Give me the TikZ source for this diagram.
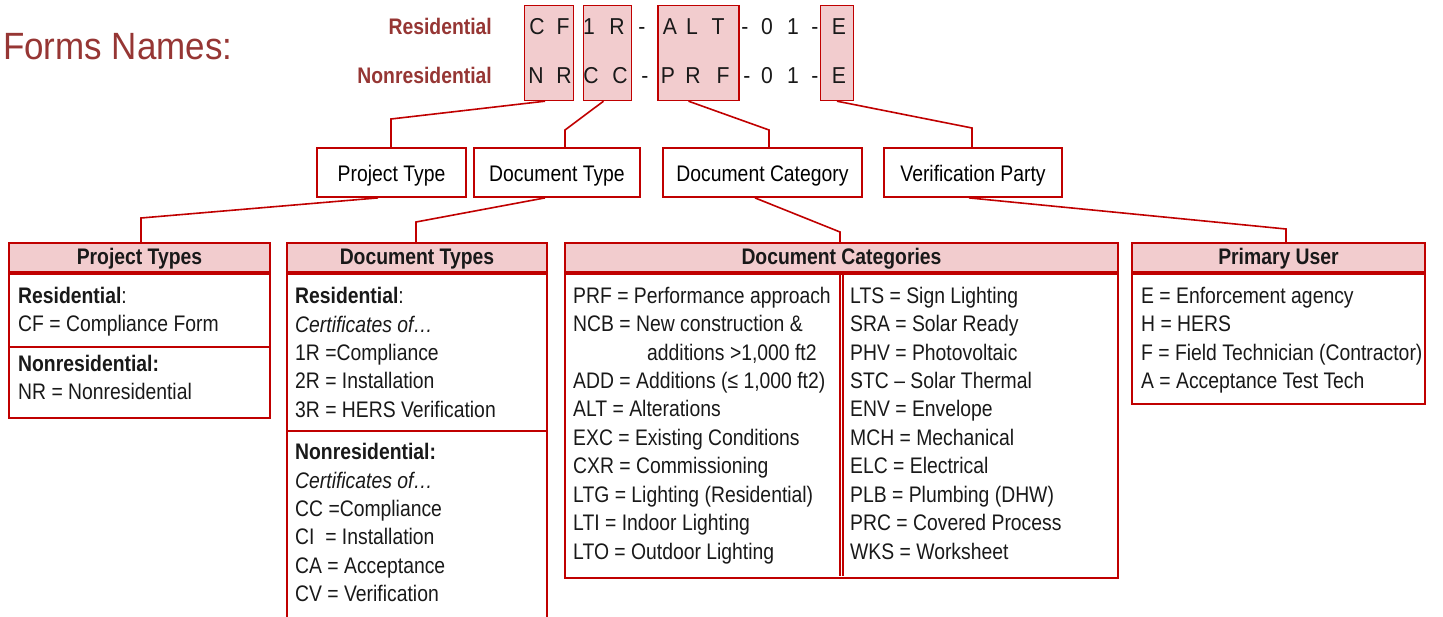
\documentclass[tikz,border=0pt]{standalone}
\usepackage{fontspec}
\setmainfont{Liberation Sans}[FakeStretch=0.86]
\newfontfamily\titlefont{Liberation Sans}[FakeStretch=0.92]
\usepackage{xcolor}
\definecolor{formred}{RGB}{192,0,0}
\definecolor{formpink}{RGB}{242,204,206}
\definecolor{formtext}{RGB}{150,54,52}
\newcommand{\bodyfont}{\fontsize{22.5}{28.45}\selectfont}
\tikzset{% styles of the form name chart
    >=latex,
    link/.style={formred, line width=1.6pt},
    boxline/.style={formred, line width=1.8pt},
    codebox/.style={draw=formred, fill=formpink, line width=1.4pt, inner sep=0pt},
    midbox/.style={draw=formred, line width=1.8pt, fill=white, font=\bodyfont, inner sep=0pt, text height=22pt, text depth=3pt},
    headbox/.style={draw=formred, fill=formpink, line width=1.8pt, font=\bodyfont\bfseries, text=black!90, inner sep=0pt, text height=17pt, text depth=2pt},
    bodybox/.style={draw=formred, line width=1.8pt, inner sep=0pt, anchor=north},
    bodytxt/.style={font=\bodyfont, align=left, anchor=north west, inner sep=0pt, text=black!90},
    letter/.style={font=\titlefont\fontsize{23}{28}\selectfont, anchor=base, inner sep=0pt, text=black!90},
    rowlabel/.style={font=\bodyfont\bfseries, text=formtext, inner sep=0pt},
    title/.style={font=\titlefont\fontsize{38}{40}\selectfont, text=formtext, inner sep=0pt}
}

\begin{document}
\begin{tikzpicture}[x=1pt,y=-1pt]
		\useasboundingbox (0,0) rectangle (1443,617);

		% title and row labels
		\node[title, anchor=base west] (title) at (3,59.3) {Forms Names:};
		\node[rowlabel, anchor=base east] (reslabel) at (492,35) {Residential};
		\node[rowlabel, anchor=base east] (nonreslabel) at (492,83.3) {Nonresidential};

		% code boxes
		\node[codebox, minimum width=49pt, minimum height=95pt] (ptcode) at (549,53) {};
		\node[codebox, minimum width=48pt, minimum height=95pt] (dtcode) at (607.5,53) {};
		\node[codebox, minimum width=81pt, minimum height=95pt] (dccode) at (698.5,53) {};
		\node[codebox, minimum width=33pt, minimum height=95pt] (vpcode) at (837,53) {};

		% letters
		\foreach \ch/\x [count=\i] in {C/537, F/563, 1/589, R/617, -/642, A/670, L/692, T/718, -/745, 0/767, 1/793, -/815, E/839}
			\node[letter] (res\i) at (\x,35) {\ch};
		\foreach \ch/\x [count=\i] in {N/536, R/564, C/591, C/620, -/645, P/668, R/693, F/723, -/747, 0/767, 1/793, -/815, E/839}
			\node[letter] (nonres\i) at (\x,83.3) {\ch};

		% parts of the name
		\node[midbox, minimum width=149pt, minimum height=49pt] (ptype) at (391.5,172.5) {Project Type};
		\node[midbox, minimum width=166pt, minimum height=49pt] (dtype) at (557,172.5) {Document Type};
		\node[midbox, minimum width=199pt, minimum height=49pt] (dcat) at (762.5,172.5) {Document Category};
		\node[midbox, minimum width=178pt, minimum height=49pt] (vparty) at (973,172.5) {Verification Party};

		\coordinate (ptkink) at (391,119);
		\coordinate (dtkink) at (565,130);
		\coordinate (dckink) at (769,130);
		\coordinate (vpkink) at (972,128);
		\draw[link] ([xshift=-4pt]ptcode.south) -- (ptkink) -- (ptkink |- ptype.north);
		\draw[link] ([xshift=-4pt]dtcode.south) -- (dtkink) -- (dtkink |- dtype.north);
		\draw[link] ([xshift=-10pt]dccode.south) -- (dckink) -- (dckink |- dcat.north);
		\draw[link] (vpcode.south) -- (vpkink) -- (vpkink |- vparty.north);

		% tables
		\node[headbox, minimum width=261pt, minimum height=29pt] (pthead) at (139.5,257.5) {Project Types};
		\node[headbox, minimum width=260pt, minimum height=29pt] (dthead) at (417,257.5) {Document Types};
		\node[headbox, minimum width=553pt, minimum height=29pt] (dchead) at (841.5,257.5) {Document Categories};
		\node[headbox, minimum width=293pt, minimum height=29pt] (puhead) at (1278.5,257.5) {Primary User};

		\node[bodybox, minimum width=261pt, minimum height=144pt] (ptbody) at (pthead.south) {};
		\node[bodybox, minimum width=260pt, minimum height=368pt] (dtbody) at (dthead.south) {};
		\node[bodybox, minimum width=553pt, minimum height=304pt] (dcbody) at (dchead.south) {};
		\node[bodybox, minimum width=293pt, minimum height=130pt] (pubody) at (puhead.south) {};

		\draw[boxline] (ptbody.west |- 0,347) -- (ptbody.east |- 0,347);
		\draw[boxline] (dtbody.west |- 0,431) -- (dtbody.east |- 0,431);
		\draw[formred, line width=1.4pt] (840,272) -- (840,576) (843,272) -- (843,576);

		\coordinate (pthkink) at (141,218);
		\coordinate (dthkink) at (416,222);
		\coordinate (dchkink) at (840,232);
		\coordinate (puhkink) at (1286,229);
		\draw[link] ([xshift=-13.5pt]ptype.south) -- (pthkink) -- (pthkink |- pthead.north);
		\draw[link] ([xshift=-12pt]dtype.south) -- (dthkink) -- (dthkink |- dthead.north);
		\draw[link] ([xshift=-7.5pt]dcat.south) -- (dchkink) -- (dchkink |- dchead.north);
		\draw[link] ([xshift=-4pt]vparty.south) -- (puhkink) -- (puhkink |- puhead.north);

		% table texts
		\node[bodytxt] (ptres) at (18,283) {\strut\textbf{Residential}:\\CF = Compliance Form};
		\node[bodytxt] (ptnonres) at (18,351) {\strut\textbf{Nonresidential:}\\NR = Nonresidential};

		\node[bodytxt] (dtres) at (295,283.5) {\strut\textbf{Residential}:\\\textit{Certificates of…}\\1R =Compliance\\2R = Installation\\3R = HERS Verification};
		\node[bodytxt] (dtnonres) at (295,439.5) {\strut\textbf{Nonresidential:}\\\textit{Certificates of…}\\CC =Compliance\\CI\ \ = Installation\\CA = Acceptance\\CV = Verification};

		\node[bodytxt] (dcleft) at (573,283) {\strut PRF = Performance approach\\NCB = New construction \&\\\hspace*{74pt}additions >1,000 ft2\\ADD = Additions (≤ 1,000 ft2)\\ALT = Alterations\\EXC = Existing Conditions\\CXR = Commissioning\\LTG = Lighting (Residential)\\LTI = Indoor Lighting\\LTO = Outdoor Lighting};
		\node[bodytxt] (dcright) at (850,283) {\strut LTS = Sign Lighting\\SRA = Solar Ready\\PHV = Photovoltaic\\STC – Solar Thermal\\ENV = Envelope\\MCH = Mechanical\\ELC = Electrical\\PLB = Plumbing (DHW)\\PRC = Covered Process\\WKS = Worksheet};

		\node[bodytxt] (puitems) at (1141,283) {\strut E = Enforcement agency\\H = HERS\\F = Field Technician (Contractor)\\A = Acceptance Test Tech};

	\end{tikzpicture}
\end{document}
